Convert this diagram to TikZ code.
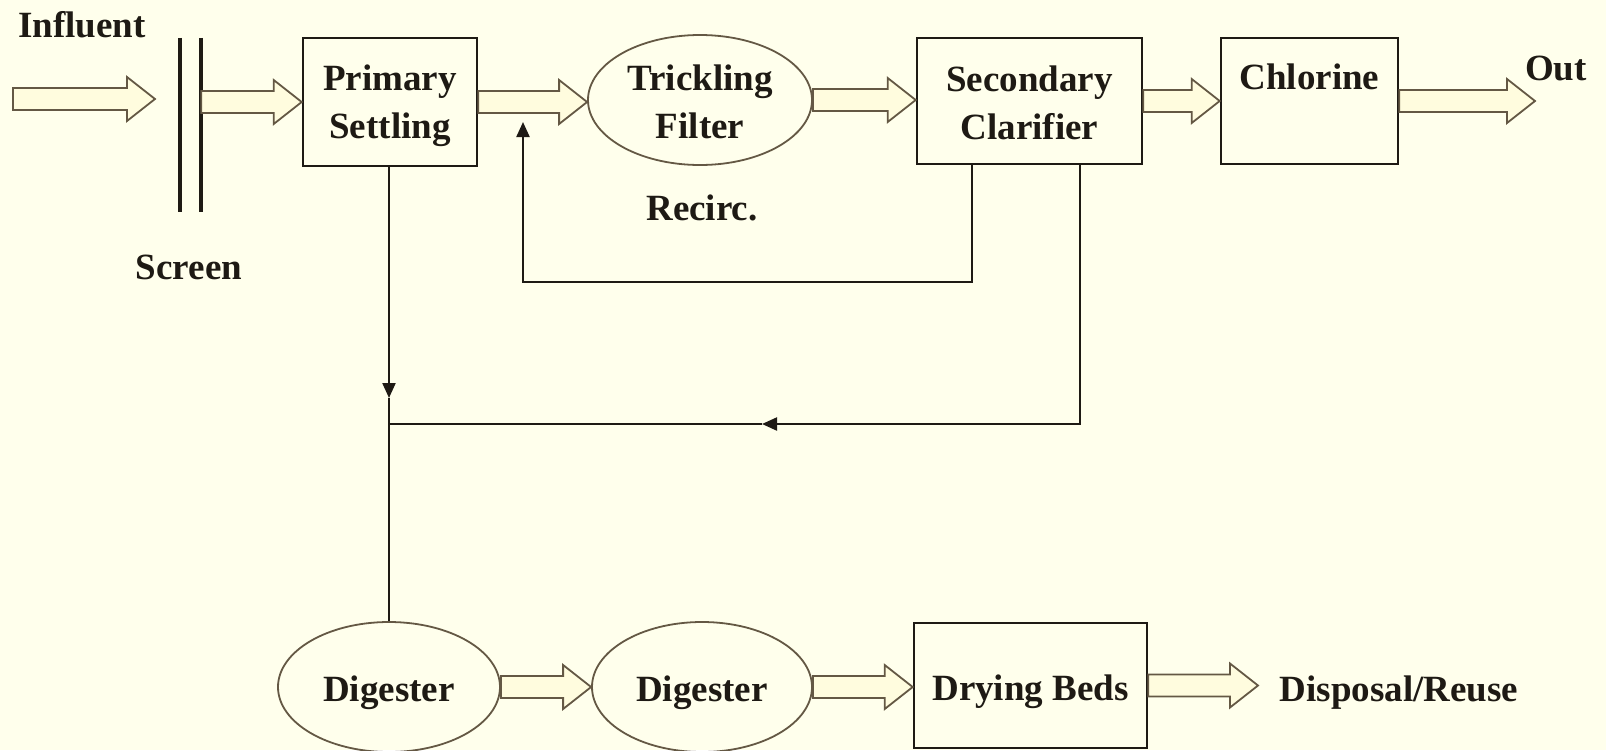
\documentclass[tikz,border=0pt]{standalone}
\usepackage{fontspec}
\setmainfont{Liberation Serif}
\usetikzlibrary{calc,arrows.meta,shapes.geometric}
\definecolor{bg}{RGB}{255,255,236}
\definecolor{ink}{RGB}{30,26,20}
\definecolor{arrowline}{RGB}{100,88,68}
\definecolor{arrowfill}{RGB}{255,252,222}
\tikzset{
  blockarrow/.style={draw=arrowline, fill=arrowfill, line width=1.8pt, line join=miter,
    to path={let \p1=(\tikztostart), \p2=(\tikztotarget) in
      (\x1,\y1+11pt) -- (\x2-28pt,\y1+11pt) -- (\x2-28pt,\y1+22pt) -- (\x2,\y1)
      -- (\x2-28pt,\y1-22pt) -- (\x2-28pt,\y1-11pt) -- (\x1,\y1-11pt) -- cycle}},
  box/.style={draw=ink, line width=2.6pt, inner sep=0pt, align=center, text=ink},
  oval/.style={ellipse, draw=arrowline, line width=1.8pt, inner sep=0pt, align=center, text=ink},
  lbl/.style={text=ink},
  conn/.style={draw=ink, line width=2.2pt},
  tipend/.style={-{Triangle[length=15pt,width=13pt]}}
}
\begin{document}
\begin{tikzpicture}[x=1pt, y=-1pt, font=\bfseries\fontsize{37}{48}\selectfont]
\path[use as bounding box, fill=bg] (0,0) rectangle (1606,750);

% Influent
\node[lbl] (influent) at (82,25) {Influent};
\coordinate (inA) at (13,99);
\coordinate (inB) at (155,99);
\draw[blockarrow] (inA) to (inB);

% Screen
\node[minimum width=21pt, minimum height=174pt, inner sep=0pt] (screen) at (190.5,125) {};
\draw[ink, line width=4.5pt] (screen.north west) -- (screen.south west)
                             (screen.north east) -- (screen.south east);
\node[lbl] (screenlbl) at (189,267) {Screen};

% Top row
\node[box, minimum width=174pt, minimum height=128pt] (pri) at (390,102) {};
\node[lbl, align=center] (pritxt) at (390,106) {Primary\\Settling};
\draw[blockarrow] (screen.east |- pri.west) to (pri.west);

\node[oval, minimum width=224pt, minimum height=130pt] (tf) at (700,100) {};
\node[lbl, align=center] (tftxt) at (700,102) {Trickling\\Filter};
\draw[blockarrow] (pri.east) to (tf.west);

\node[box, minimum width=225pt, minimum height=126pt] (sec) at (1029.5,101) {};
\node[lbl, align=center] (sectxt) at (1029.5,103) {Secondary\\Clarifier};
\draw[blockarrow] (tf.east) to (sec.west);

\node[box, minimum width=177pt, minimum height=126pt] (chl) at (1309.5,101) {};
\node[lbl] (chltxt) at (1309.5,77) {Chlorine};
\draw[blockarrow] (sec.east) to (chl.west);

\coordinate (outend) at (1535,102);
\draw[blockarrow] (chl.east) to (outend);
\node[lbl] (out) at (1556,68) {Out};

% Recirculation
\coordinate (r1) at (972,0);
\coordinate (r2) at (972,282);
\coordinate (r3) at (523,282);
\coordinate (rtip) at (523,122);
\draw[conn, tipend] (sec.south -| r1) -- (r2) -- (r3) -- (rtip);
\node[lbl] (recirc) at (702,208) {Recirc.};

% Bottom row
\node[oval, minimum width=222pt, minimum height=130pt] (dig1) at (389,687) {};
\node[lbl] (dig1txt) at (389,693) {Digester};
\node[oval, minimum width=220pt, minimum height=130pt] (dig2) at (702,687) {};
\node[lbl] (dig2txt) at (702,693) {Digester};
\node[box, minimum width=233pt, minimum height=125pt] (dry) at (1030.5,685.5) {};
\node[lbl] (drytxt) at (1030.5,692) {Drying Beds};

% Sludge lines
\coordinate (s1) at (1080,0);
\coordinate (s2) at (1080,424);
\coordinate (smid) at (762,424);
\coordinate (sj) at (389,424);
\coordinate (pmid) at (389,398);
\draw[conn, tipend] (sec.south -| s1) -- (s2) -- (smid);
\draw[conn] (smid) -- (sj);
\draw[conn, tipend] (pri.south -| sj) -- (pmid);
\draw[conn] (pmid) -- (dig1.north);

\draw[blockarrow] (dig1.east) to (dig2.west);
\draw[blockarrow] (dig2.east) to (dry.west);
\coordinate (dispend) at (1258,687);
\draw[blockarrow] (dry.east) to (dispend);
\node[lbl] (disp) at (1399,693) {Disposal/Reuse};
\end{tikzpicture}
\end{document}
